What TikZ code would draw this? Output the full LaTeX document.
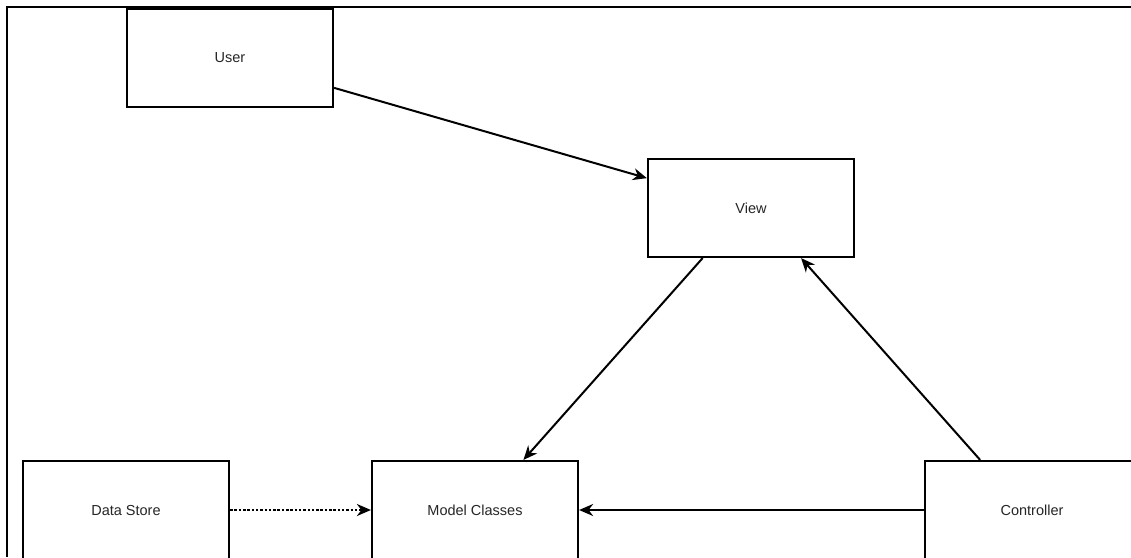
\documentclass[tikz,border=0pt]{standalone}
\usepackage{fontspec}
\setmainfont{Liberation Sans}
\usetikzlibrary{arrows.meta}
\tikzset{
	box/.style={draw,line width=2.2pt,minimum width=206pt,minimum height=98pt,inner sep=0pt,text=black!85,font=\fontsize{14.5}{16}\selectfont},
	link/.style={line width=2pt,-{Stealth[length=14pt,width=12pt,inset=4.5pt]}},
	dlink/.style={link,dash pattern=on 2.5pt off 1.8pt}
}
\begin{document}
\begin{tikzpicture}[x=1pt,y=-1pt]
						\clip (0,0) rectangle (1131,557);
						\fill [white] (0,0) rectangle (1131,557);
						\draw [line width=2.6pt] (1131,7) -- (7,7) -- (7,557);

						\node [box] (user) at (230,58) {User};
						\node [box] (view) at (751,208) {View};
						\node [box] (store) at (126,510) {Data Store};
						\node [box] (model) at (475,510) {Model Classes};
						\node [box,minimum width=214pt] (ctrl) at (1032,510) {Controller};

						\draw [link] (user.-16) -- (view.164);
						\draw [link] (view.226) -- (model.46);
						\draw [link] (ctrl.136) -- (view.-45);
						\draw [link] (ctrl.west) -- (model.east);
						\draw [dlink] (store.east) -- (model.west);
					\end{tikzpicture}
\end{document}
